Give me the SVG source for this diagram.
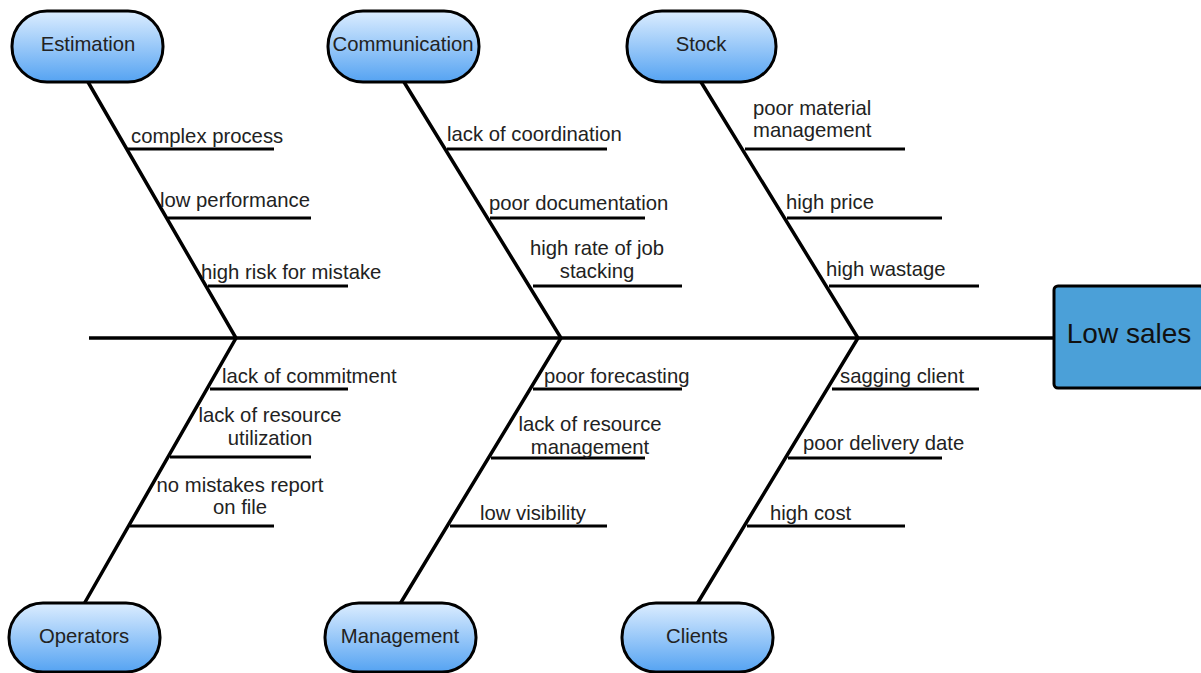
<svg xmlns="http://www.w3.org/2000/svg" width="1201" height="673" viewBox="0 0 1201 673">
<defs>
<linearGradient id="pill" x1="0" y1="0" x2="0" y2="1">
<stop offset="0" stop-color="#dcedff"/>
<stop offset="1" stop-color="#55a3f2"/>
</linearGradient>
</defs>
<style>
.pill{fill:url(#pill);stroke:#000;stroke-width:3}
.nt{font-family:"Liberation Sans",Arial,sans-serif;font-size:20.3px;fill:#222;text-anchor:middle}
.lb{font-family:"Liberation Sans",Arial,sans-serif;font-size:20.3px;fill:#222}
.lc{text-anchor:middle}
.bone{stroke:#000;stroke-width:3.5;fill:none;stroke-linecap:butt}
.sub{stroke:#000;stroke-width:3;fill:none}
</style>
<rect width="1201" height="673" fill="#fff"/>
<g id="connectors">
<line class="bone" x1="89" y1="338" x2="1054" y2="338" stroke-width="4"/>
<polyline class="bone" points="88,82 236,338 84,604"/>
<polyline class="bone" points="404,82 561,338 400,604"/>
<polyline class="bone" points="701,82 858,338 697,604"/>
<line class="sub" x1="128" y1="149" x2="274" y2="149"/>
<line class="sub" x1="168" y1="218" x2="311" y2="218"/>
<line class="sub" x1="208" y1="286" x2="348" y2="286"/>
<line class="sub" x1="447" y1="149" x2="607" y2="149"/>
<line class="sub" x1="490" y1="218" x2="645" y2="218"/>
<line class="sub" x1="533" y1="286" x2="682" y2="286"/>
<line class="sub" x1="745" y1="149" x2="905" y2="149"/>
<line class="sub" x1="787" y1="218" x2="942" y2="218"/>
<line class="sub" x1="829" y1="286" x2="979" y2="286"/>
<line class="sub" x1="210" y1="389" x2="348" y2="389"/>
<line class="sub" x1="170" y1="457" x2="311" y2="457"/>
<line class="sub" x1="130" y1="526" x2="274" y2="526"/>
<line class="sub" x1="533" y1="389" x2="682" y2="389"/>
<line class="sub" x1="491" y1="458" x2="645" y2="458"/>
<line class="sub" x1="450" y1="526" x2="607" y2="526"/>
<line class="sub" x1="832" y1="389" x2="979" y2="389"/>
<line class="sub" x1="788" y1="458" x2="942" y2="458"/>
<line class="sub" x1="747" y1="526" x2="905" y2="526"/>
</g>
<g id="labels">
<text class="lb" x="131" y="143">complex process</text>
<text class="lb" x="160" y="207">low performance</text>
<text class="lb" x="201" y="279">high risk for mistake</text>
<text class="lb" x="447" y="141">lack of coordination</text>
<text class="lb" x="489" y="210">poor documentation</text>
<text class="lb lc" x="597" y="255">high rate of job</text>
<text class="lb lc" x="597" y="278">stacking</text>
<text class="lb" x="753" y="115">poor material</text>
<text class="lb" x="753" y="137">management</text>
<text class="lb" x="786" y="209">high price</text>
<text class="lb" x="826" y="276">high wastage</text>
<text class="lb" x="222" y="383">lack of commitment</text>
<text class="lb lc" x="270" y="422">lack of resource</text>
<text class="lb lc" x="270" y="445">utilization</text>
<text class="lb lc" x="240" y="492">no mistakes report</text>
<text class="lb lc" x="240" y="514">on file</text>
<text class="lb" x="544" y="383">poor forecasting</text>
<text class="lb lc" x="590" y="431">lack of resource</text>
<text class="lb lc" x="590" y="454">management</text>
<text class="lb" x="480" y="520">low visibility</text>
<text class="lb" x="840" y="383">sagging client</text>
<text class="lb" x="803" y="450">poor delivery date</text>
<text class="lb" x="770" y="520">high cost</text>
</g>
<g id="estimation"><rect class="pill" x="12" y="11" width="151" height="71" rx="35" ry="35"/><text class="nt" x="88" y="51">Estimation</text></g>
<g id="communication"><rect class="pill" x="328" y="11" width="151" height="71" rx="35" ry="35"/><text class="nt" x="403" y="51">Communication</text></g>
<g id="stock"><rect class="pill" x="627" y="11" width="149" height="71" rx="35" ry="35"/><text class="nt" x="701" y="51">Stock</text></g>
<g id="operators"><rect class="pill" x="9" y="603" width="151" height="69" rx="34" ry="34"/><text class="nt" x="84" y="643">Operators</text></g>
<g id="management"><rect class="pill" x="325" y="603" width="151" height="69" rx="34" ry="34"/><text class="nt" x="400" y="643">Management</text></g>
<g id="clients"><rect class="pill" x="622" y="603" width="151" height="69" rx="34" ry="34"/><text class="nt" x="697" y="643">Clients</text></g>
<g id="low-sales"><rect x="1054" y="286" width="150" height="102" rx="4" ry="4" fill="#4ba0d8" stroke="#000" stroke-width="3"/><text x="1129" y="343" font-family="Liberation Sans, Arial, sans-serif" font-size="28" fill="#111" text-anchor="middle">Low sales</text></g>
</svg>
